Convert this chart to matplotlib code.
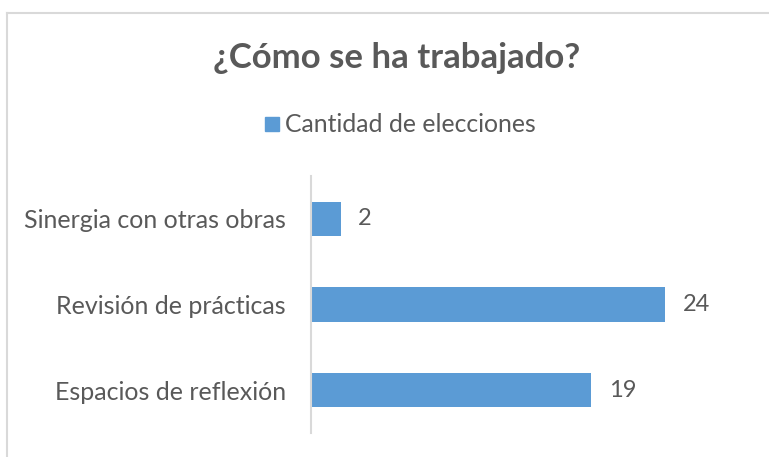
import matplotlib.pyplot as plt
from matplotlib.patches import Rectangle
from matplotlib.lines import Line2D

# =====================================================
# DATA
# =====================================================

categories = [
    "Espacios de reflexión",
    "Revisión de prácticas",
    "Sinergia con otras obras",
]

values = [19, 24, 2]

series_name = "Cantidad de elecciones"

title = "¿Cómo se ha trabajado?"

# =====================================================
# STYLE
# =====================================================

plt.rcParams["font.family"] = ["Lato", "DejaVu Sans"]

bar_color = "#5B9BD5"
text_color = "#595959"
line_color = "#D9D9D9"

fig = plt.figure(figsize=(7.69, 4.57), dpi=100)

W, H = 769, 457

# chart border (only top and left visible in the crop)
fig.add_artist(Line2D([7 / W, 7 / W], [0, 1 - 13 / H],
                      transform=fig.transFigure, color=line_color, lw=1.5))
fig.add_artist(Line2D([7 / W, 1], [1 - 13 / H, 1 - 13 / H],
                      transform=fig.transFigure, color=line_color, lw=1.5))

ax = fig.add_axes([311 / W, 1 - 433 / H, 413 / W, 257 / H])

y = range(len(categories))

bars = ax.barh(
    y,
    values,
    height=0.4,
    color=bar_color
)

for bar, v in zip(bars, values):
    ax.text(
        bar.get_width() + 1.2,
        bar.get_y() + bar.get_height() / 2,
        str(v),
        va="center",
        ha="left",
        fontsize=17,
        color=text_color
    )

ax.set_xlim(0, 28)
ax.set_ylim(-0.5, len(categories) - 0.5)

ax.set_yticks(list(y))
ax.set_yticklabels(categories, fontsize=18, color=text_color)
ax.tick_params(axis="y", length=0, pad=18)
ax.set_xticks([])

for side in ["top", "right", "bottom"]:
    ax.spines[side].set_visible(False)

ax.spines["left"].set_color(line_color)
ax.spines["left"].set_linewidth(1.5)

# title
fig.text(
    397 / W,
    1 - 58 / H,
    title,
    ha="center",
    va="center",
    fontsize=25,
    fontweight="bold",
    color=text_color
)

# legend
fig.add_artist(Rectangle(
    (265 / W, 1 - 131 / H),
    14 / W,
    14 / H,
    transform=fig.transFigure,
    color=bar_color
))

fig.text(
    285 / W,
    1 - 124 / H,
    series_name,
    ha="left",
    va="center",
    fontsize=17.8,
    color=text_color
)

fig.savefig("out.png", dpi=100)
